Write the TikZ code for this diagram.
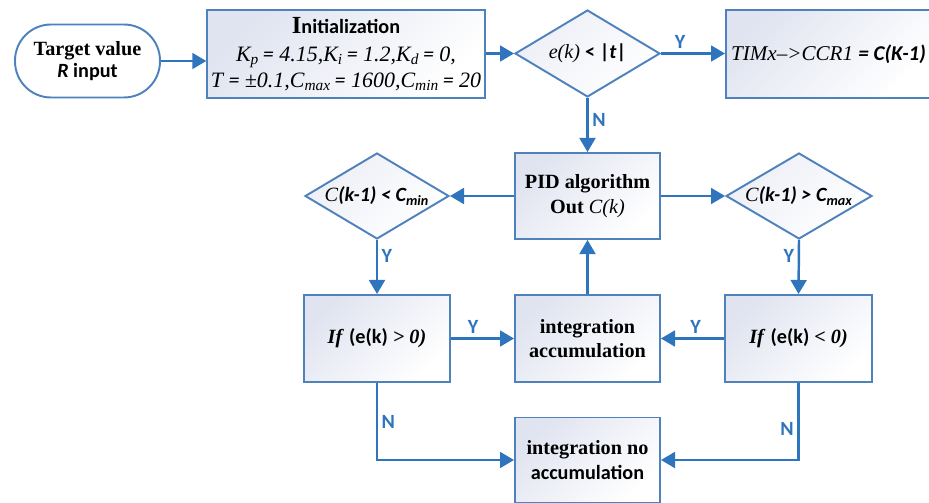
\documentclass[tikz,border=0pt]{standalone}
\usepackage{fontspec}
\setmainfont{Liberation Serif}
\newfontfamily\sa{Carlito}
\usetikzlibrary{shapes.geometric}
\usetikzlibrary{positioning}
\usetikzlibrary{arrows.meta}
\definecolor{flowblue}{RGB}{46,117,190}
\definecolor{boxline}{RGB}{79,129,189}
\definecolor{boxfill}{RGB}{224,228,240}
\newcommand{\fsz}{\fontsize{11.5pt}{14pt}\selectfont}
\tikzset{
    boxn/.style = {rectangle, line width=1.1pt, draw=boxline, top color=boxfill, bottom color=white, shading angle=45, align=center, inner sep=2pt, font=\fsz\bfseries},
    decn/.style = {diamond, line width=1.1pt, draw=boxline, top color=boxfill!60, bottom color=white, shading angle=45, align=center, inner sep=0pt, aspect=1.67, font=\fsz\bfseries},
    termn/.style = {rectangle, rounded corners=0.72cm, line width=1.1pt, draw=boxline, fill=white, align=center, font=\fontsize{11.5pt}{12.5pt}\selectfont\bfseries},
    flow/.style = {-{Triangle[length=8pt,width=9pt]}, line width=1.4pt, flowblue},
    lab/.style = {font=\sa\bfseries\fontsize{11.5pt}{11.5pt}\selectfont, text=flowblue, inner sep=2pt}
}

\begin{document}
\begin{tikzpicture}[x=0.02cm, y=-0.02cm]
\useasboundingbox (0,0) rectangle (929,503);
\node[termn, minimum width=2.9cm, minimum height=1.46cm] at (87.5,61) (target) {Target value\\{\sa\textit{R} input}};
\node[boxn, minimum width=5.28cm, minimum height=1.76cm] at (346,54) (init) {{\fontsize{14pt}{14pt}\selectfont I}{\sa nitialization}\\[2pt]
  {\mdseries\itshape\fontsize{12.5pt}{15pt}\selectfont K\textsubscript{p}\,{\sa =} 4.15,K\textsubscript{i}\,{\sa =} 1.2,K\textsubscript{d}\,{\sa =} 0,}\\[1pt]
  {\mdseries\itshape\fontsize{12.5pt}{15pt}\selectfont T {\sa =} ±0.1,C\textsubscript{max}\,{\sa =} 1600,C\textsubscript{min}\,{\sa =} 20}};
\node[decn, minimum width=2.9cm, minimum height=1.74cm] at (587.5,53.5) (cond) {\textit{\mdseries e(k)} {\sa < |\textit{t}|}};
\node[boxn, minimum width=4.1cm, minimum height=1.76cm] at (828.5,54) (tim) {\fontsize{12pt}{14pt}\selectfont\textit{\mdseries TIMx–>CCR1} {\sa\itshape = C(K-1)}};
\node[boxn, minimum width=2.9cm, minimum height=1.72cm] at (587.5,196) (pid) {PID algorithm\\Out \textit{\mdseries C(k)}};
\node[decn, minimum width=2.88cm, minimum height=1.72cm] at (377,196) (cmin) {\textit{\mdseries C}{\sa\itshape (k-1) < C\textsubscript{min}}};
\node[decn, minimum width=2.92cm, minimum height=1.72cm] at (799,196) (cmax) {\textit{\mdseries C}{\sa\itshape (k-1) > C\textsubscript{max}}};
\node[boxn, minimum width=2.92cm, minimum height=1.74cm] at (377,338.5) (ifpos) {\textit{If} {\sa (e(k)}\textit{ > 0)}};
\node[boxn, minimum width=2.9cm, minimum height=1.74cm] at (587.5,338.5) (acc) {integration\\accumulation};
\node[boxn, minimum width=2.94cm, minimum height=1.74cm] at (798.5,338.5) (ifneg) {\textit{If} {\sa (e(k)}\textit{ < 0)}};
\node[boxn, minimum width=2.9cm, minimum height=1.7cm] at (587.5,460) (noacc) {integration no\\{\sa accumulation}};
\draw[flow] (target.east) -- (target.east -| init.west);
\draw[flow] (init.east |- cond.west) -- (cond.west);
\draw[flow] (cond.east) -- node[lab, above, pos=0.3] {Y} (tim.west |- cond.east);
\draw[flow] (cond.south) -- node[lab, right, pos=0.4] {N} (pid.north);
\draw[flow] (pid.west) -- (cmin.east);
\draw[flow] (pid.east) -- (cmax.west);
\draw[flow] (cmin.south) -- node[lab, right, pos=0.3] {Y} (ifpos.north);
\draw[flow] (cmax.south) -- node[lab, left, pos=0.3] {Y} (ifneg.north);
\draw[flow] (ifpos.east) -- node[lab, above, pos=0.35] {Y} (acc.west);
\draw[flow] (ifneg.west) -- node[lab, above, pos=0.45] {Y} (acc.east);
\draw[flow] (acc.north) -- (pid.south);
\draw[flow] (ifpos.south) |- node[lab, right, pos=0.25] {N} (noacc.west);
\draw[flow] (ifneg.south) |- node[lab, left, pos=0.3] {N} (noacc.east);
\end{tikzpicture}
\end{document}
